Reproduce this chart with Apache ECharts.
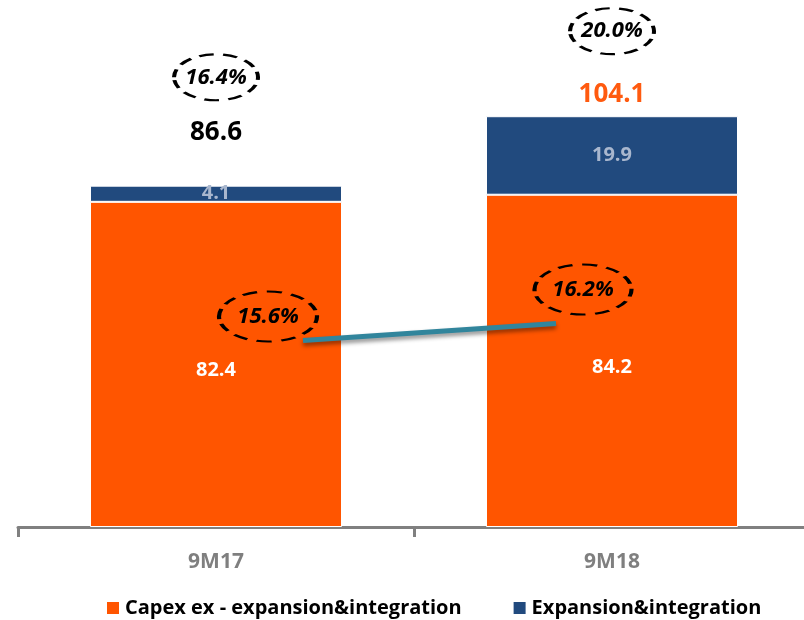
<!DOCTYPE html>
<html>
<head>
<meta charset="utf-8">
<script src="https://cdn.jsdelivr.net/npm/echarts@6/dist/echarts.min.js"></script>
<style>
  html, body { margin: 0; padding: 0; background: #fff; }
  #capexChart { width: 804px; height: 620px; }
</style>
</head>
<body>
<div id="capexChart"></div>
<script>
// data
var periods = ['9M17', '9M18']
var capexExExpansion = [82.4, 84.2]
var expansionIntegration = [4.1, 19.9]
var totals = [86.6, 104.1]
var totalShare = ['16.4%', '20.0%']
var capexShare = [15.6, 16.2]

var FONT = '"Open Sans", "Liberation Sans", sans-serif'
var ellipse = 'path://M0,1A1,1 0 1,1 2,1A1,1 0 1,1 0,1Z'

var chart = echarts.init(document.getElementById('capexChart'))

// dashed ellipse with italic text
function bubble(coord, text, size, offset) {
  return {
    coord: coord,
    symbol: ellipse,
    symbolSize: size,
    symbolOffset: offset,
    itemStyle: { color: 'rgba(0,0,0,0)', borderColor: '#000', borderWidth: 3, borderType: [11, 7] },
    label: {
      show: true, position: 'inside', formatter: text,
      color: '#000', fontSize: 22, fontWeight: 'bold', fontStyle: 'italic', fontFamily: FONT
    }
  }
}

var totalColors = ['#000000', '#FF5A0F']
var totalOffsets = [-53, -22]
var shareOffsets = [-108, -85]

var barMarks = []
periods.forEach(function(p, i) {
  barMarks.push({
    coord: [i, totals[i]],
    symbol: 'circle',
    symbolSize: 1,
    symbolOffset: [0, totalOffsets[i]],
    itemStyle: { color: 'rgba(0,0,0,0)' },
    label: {
      show: true, position: 'inside', formatter: String(totals[i]),
      color: totalColors[i], fontSize: 26, fontWeight: 'bold', fontFamily: FONT
    }
  })
  barMarks.push(bubble([i, totals[i]], totalShare[i], [84, 46], [0, shareOffsets[i]]))
})

var lineMarks = [
  bubble([0, capexShare[0]], capexShare[0].toFixed(1) + '%', [98, 50], [-35, -24]),
  bubble([1, capexShare[1]], capexShare[1].toFixed(1) + '%', [97, 50], [27, -34])
]

var option = {
  animation: false,
  textStyle: { fontFamily: FONT },
  grid: [
    { left: 18, width: 792, top: 14, height: 513, outerBoundsMode: 'none' },
    // second grid only carries the ratio line
    { left: 176.5, width: 506, top: 216, height: 283, outerBoundsMode: 'none' }
  ],
  legend: {
    data: ['Capex ex - expansion&integration', 'Expansion&integration'],
    left: 100,
    bottom: -3,
    itemWidth: 14,
    itemHeight: 14,
    itemGap: 50,
    icon: 'rect',
    textStyle: { color: '#000', fontSize: 20, fontWeight: 'bold', fontFamily: FONT }
  },
  xAxis: [
    {
      type: 'category',
      gridIndex: 0,
      data: periods,
      axisLine: { lineStyle: { color: '#808080', width: 3 } },
      axisTick: { show: true, length: 10, lineStyle: { color: '#808080', width: 3 } },
      axisLabel: { margin: 25, color: '#7F7F7F', fontSize: 21, fontWeight: 'bold', fontFamily: FONT }
    },
    { type: 'category', gridIndex: 1, data: periods, show: false }
  ],
  yAxis: [
    { type: 'value', gridIndex: 0, min: 0, max: 130, show: false },
    { type: 'value', gridIndex: 1, min: 10, max: 20, show: false }
  ],
  series: [
    {
      name: 'Capex ex - expansion&integration',
      type: 'bar',
      stack: 'capex',
      barWidth: 252,
      data: capexExExpansion,
      itemStyle: { color: '#FF5500', borderColor: '#fff', borderWidth: 1 },
      label: {
        show: true, position: 'inside', offset: [0, 6], color: '#fff',
        fontSize: 20, fontWeight: 'bold', fontFamily: FONT
      }
    },
    {
      name: 'Expansion&integration',
      type: 'bar',
      stack: 'capex',
      barWidth: 252,
      data: expansionIntegration,
      itemStyle: { color: '#214A7E', borderColor: '#fff', borderWidth: 1 },
      label: {
        show: true, position: 'inside', color: '#A9B7CE',
        fontSize: 20, fontWeight: 'bold', fontFamily: FONT
      },
      markPoint: { silent: true, data: barMarks }
    },
    {
      name: 'ratio',
      type: 'line',
      xAxisIndex: 1,
      yAxisIndex: 1,
      data: capexShare,
      symbol: 'none',
      lineStyle: {
        color: '#31859C', width: 5,
        shadowColor: 'rgba(0,0,0,0.45)', shadowBlur: 4, shadowOffsetY: 3
      },
      markPoint: { silent: true, data: lineMarks }
    }
  ]
}

chart.setOption(option)
</script>
</body>
</html>
